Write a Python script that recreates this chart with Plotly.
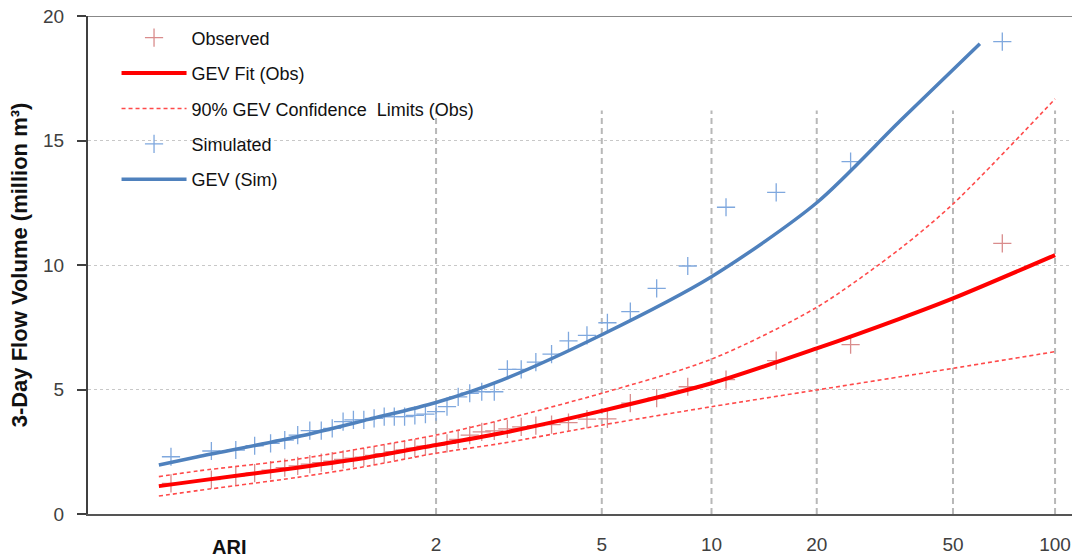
import numpy as np
import plotly.graph_objects as go

# ---------------- data ----------------
# plotting-position ARIs (years) shared by observed and simulated ranked values
ari_points = [69.86, 25.08, 15.28, 10.99, 8.579, 7.036, 5.963, 5.175, 4.570, 4.092,
              3.705, 3.384, 3.115, 2.885, 2.687, 2.514, 2.362, 2.228, 2.108, 2.000,
              1.903, 1.814, 1.734, 1.660, 1.593, 1.531, 1.473, 1.419, 1.370, 1.323,
              1.280, 1.2395, 1.2015, 1.1657, 1.1319, 1.1001, 1.0700, 1.0415, 1.0145]

observed = [10.87, 6.80, 6.16, 5.40, 5.11, 4.65, 4.45, 3.82, 3.81, 3.67,
            3.59, 3.55, 3.50, 3.42, 3.34, 3.30, 3.17, 3.00, 2.84, 2.77,
            2.72, 2.64, 2.57, 2.50, 2.42, 2.35, 2.28, 2.24, 2.19, 2.12,
            2.06, 2.00, 1.93, 1.86, 1.76, 1.64, 1.53, 1.38, 1.23]

simulated = [18.97, 14.15, 12.92, 12.32, 9.96, 9.06, 8.13, 7.68, 7.17, 6.95,
             6.42, 6.10, 5.81, 5.81, 4.91, 4.91, 4.85, 4.70, 4.31, 4.11,
             4.01, 3.96, 3.91, 3.91, 3.91, 3.84, 3.78, 3.78, 3.71, 3.44,
             3.35, 3.35, 3.17, 2.97, 2.84, 2.74, 2.57, 2.53, 2.30]

curve_ari = [1.01, 1.03, 1.2, 1.5, 2, 2.8, 5, 10, 20, 35, 50, 100]
gev_obs = [1.12, 1.33, 1.86, 2.28, 2.77, 3.25, 4.14, 5.25, 6.65, 7.85, 8.66, 10.40]
gev_obs_upper = [1.50, 1.73, 2.20, 2.68, 3.17, 3.78, 4.85, 6.22, 8.30, 10.66, 12.45, 16.67]
gev_obs_lower = [0.72, 0.94, 1.47, 1.93, 2.44, 2.84, 3.57, 4.31, 4.98, 5.51, 5.85, 6.52]

sim_curve_ari = [1.01, 1.03, 1.2, 1.5, 2, 2.8, 5, 10, 20, 35, 60]
gev_sim = [1.97, 2.30, 3.10, 3.80, 4.48, 5.38, 7.20, 9.53, 12.50, 15.79, 18.89]

tick_ari = [2, 5, 10, 20, 50, 100]
tick_labels = ["2", "5", "10", "20", "50", "100"]
y_ticks = [0, 5, 10, 15, 20]


def gumbel(t):
    """Gumbel reduced variate used as the ARI axis scale."""
    t = np.asarray(t, dtype=float)
    return -np.log(-np.log(1.0 - 1.0 / t))


FONT = "Liberation Sans, Arial, sans-serif"
OBS_MARK = "#D98C8C"
SIM_MARK = "#7FA8DE"
RED = "#FF0000"
BLUE = "#4F81BD"
DASH_RED = "#FF4A4A"

fig = go.Figure()

fig.add_trace(go.Scatter(
    x=gumbel(ari_points), y=observed, mode="markers", name="Observed",
    legendgroup="a",
    marker=dict(symbol="cross-thin", size=13, line=dict(color=OBS_MARK, width=1.3)),
))
fig.add_trace(go.Scatter(
    x=gumbel(curve_ari), y=gev_obs, mode="lines", name="GEV Fit (Obs)",
    legendgroup="b",
    line=dict(color=RED, width=4, shape="spline", smoothing=0.8),
))
fig.add_trace(go.Scatter(
    x=gumbel(curve_ari), y=gev_obs_upper, mode="lines",
    name="90% GEV Confidence  Limits (Obs)", legendgroup="c",
    line=dict(color=DASH_RED, width=1.6, dash="4px,3px", shape="spline", smoothing=0.8),
))
fig.add_trace(go.Scatter(
    x=gumbel(curve_ari), y=gev_obs_lower, mode="lines",
    name="90% GEV Confidence Limits (Obs)", legendgroup="c", showlegend=False,
    line=dict(color=DASH_RED, width=1.6, dash="4px,3px", shape="spline", smoothing=0.8),
))
fig.add_trace(go.Scatter(
    x=gumbel(ari_points), y=simulated, mode="markers", name="Simulated",
    legendgroup="d",
    marker=dict(symbol="cross-thin", size=13, line=dict(color=SIM_MARK, width=1.3)),
))
fig.add_trace(go.Scatter(
    x=gumbel(sim_curve_ari), y=gev_sim, mode="lines", name="GEV (Sim)",
    legendgroup="e",
    line=dict(color=BLUE, width=3.5, shape="spline", smoothing=0.8),
))

shapes = []
for t in tick_ari:
    gx = float(gumbel(t))
    shapes.append(dict(type="line", xref="x", yref="y", x0=gx, x1=gx, y0=0, y1=16.2,
                       line=dict(color="#B8B8B8", width=2, dash="6px,4px"), layer="below"))
shapes.append(dict(type="line", xref="paper", yref="y", x0=0, x1=1, y0=20, y1=20,
                   line=dict(color="#888888", width=2)))

fig.update_layout(
    width=1077, height=559, autosize=False,
    margin=dict(l=88, r=5, t=16, b=45),
    paper_bgcolor="white", plot_bgcolor="white",
    font=dict(family=FONT, color="#222222"),
    shapes=shapes,
    showlegend=True,
    legend=dict(x=0.029, y=0.993, xanchor="left", yanchor="top",
                bgcolor="rgba(0,0,0,0)", font=dict(size=18, family=FONT, color="#111111"),
                itemwidth=65, traceorder="grouped", tracegroupgap=9),
    xaxis=dict(range=[-2.014, 4.716], tickmode="array", automargin=False,
               tickvals=[float(v) for v in gumbel(tick_ari)], ticktext=tick_labels,
               showgrid=False, zeroline=False, showline=True, linecolor="#555555",
               linewidth=2, ticks="", tickfont=dict(size=19, color="#404040", family=FONT),
               ticklabelstandoff=12, ticklabeloverflow="allow"),
    yaxis=dict(range=[0, 20], tickmode="array", tickvals=y_ticks, automargin=False,
               showgrid=True, gridcolor="#C8C8C8", griddash="dot", gridwidth=1,
               zeroline=False, showline=True, linecolor="#404040", linewidth=2,
               ticks="outside", ticklen=9, tickwidth=1.5, tickcolor="#404040",
               tickfont=dict(size=19, color="#404040", family=FONT),
               ticklabelstandoff=9, ticklabeloverflow="allow",
               title=dict(text="<b>3-Day Flow Volume (million m³)</b>",
                          font=dict(size=22, family=FONT, color="#111111"), standoff=9)),
    annotations=[dict(text="<b>ARI</b>", xref="paper", yref="paper", x=0.1433, y=-0.066,
                      xanchor="center", yanchor="middle", showarrow=False,
                      font=dict(size=20, family=FONT, color="#111111"))],
)

# remove the page's default body margin so the figure fills the window exactly
fig.write_html("out.html", config={"displayModeBar": False},
               post_script="document.body.style.margin='0';document.body.style.overflow='hidden';")
